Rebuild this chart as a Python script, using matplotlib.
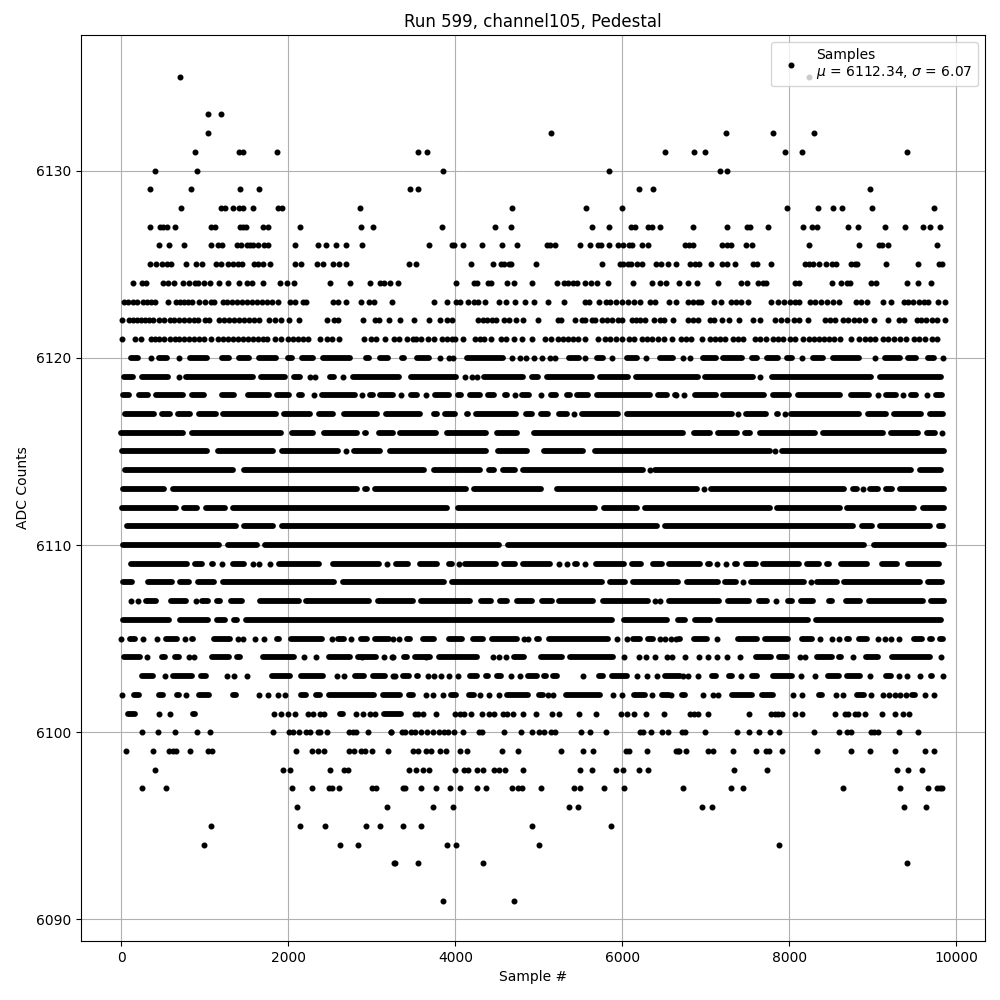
import matplotlib
matplotlib.use("Agg")
import matplotlib.pyplot as plt

# Sample numbers, per ADC level.
# dots_N: isolated samples. spans_N: (first, last) of stretches where dots merge into a solid run.
dots_6135 = [706, 8240]
dots_6133 = [1042, 1198]
dots_6132 = [1042, 5148, 7244, 7808, 8300]
dots_6131 = [886, 1414, 1462, 1870, 3552, 3660, 6516, 6860, 6992, 7952, 8156, 9404]
dots_6130 = [406, 910, 3852, 5844, 7172, 7256]
dots_6129 = [346, 838, 1426, 1654, 3456, 3552, 6204, 6372, 8960]
dots_6128 = [718, 1198, 1246, 1342, 1414, 1462, 1582, 1882, 1930, 2854, 4680, 5568, 6000, 7976, 8348, 8528, 8636, 8984, 9728]
dots_6127 = [346, 462, 502, 550, 646, 1078, 1126, 1422, 1462, 1494, 1694, 1762, 2134, 2866, 3010, 3840, 4476, 4668, 5640, 5844, 6108, 6156, 6312, 6360, 6456, 6848, 7256, 7496, 7528, 7748, 8168, 8276, 8328, 8708, 8828, 9140, 9380, 9596, 9680, 9800]
dots_6126 = [454, 574, 754, 1078, 1162, 1210, 1390, 1430, 1502, 1542, 1582, 1642, 1710, 1762, 2074, 2350, 2446, 2566, 2686, 2878, 3684, 3960, 3984, 4092, 4320, 4560, 4740, 5100, 5132, 5196, 5496, 5616, 5712, 5740, 5844, 5952, 6012, 6084, 6120, 6232, 6312, 6748, 6800, 6848, 7196, 7256, 7304, 7484, 7556, 8240, 8840, 9068, 9104, 9176, 9764]
dots_6125 = [346, 418, 490, 550, 598, 778, 898, 962, 1138, 1198, 1282, 1342, 1402, 1442, 1594, 1642, 1694, 1786, 2074, 2146, 2338, 2410, 2530, 2602, 2686, 3444, 3528, 4188, 4452, 4548, 4584, 4644, 4668, 4968, 5760, 5976, 6012, 6072, 6108, 6180, 6240, 6408, 6468, 6552, 6648, 6808, 6868, 6916, 7064, 7196, 7256, 7348, 7568, 7616, 7784, 8192, 8240, 8288, 8360, 8444, 8516, 8564, 8744, 8792, 8816, 9152, 9536, 9788, 9824]
dots_6124 = [142, 246, 298, 502, 562, 634, 742, 814, 886, 922, 994, 1066, 1174, 1282, 1414, 1510, 1570, 1702, 1906, 1978, 2062, 2494, 2734, 2974, 3094, 3142, 3214, 3312, 4008, 4224, 4260, 4392, 4428, 4620, 4704, 4920, 5220, 5304, 5352, 5412, 5460, 5556, 5628, 5700, 5832, 6132, 6360, 6456, 6528, 6680, 6788, 6896, 7144, 7424, 7496, 7628, 7688, 7724, 8072, 8120, 8516, 8624, 8696, 8732, 8972, 9032, 9404, 9536, 9692]
dots_6123 = [34, 82, 142, 190, 262, 310, 358, 406, 562, 658, 706, 754, 802, 850, 934, 1006, 1078, 1114, 1222, 1270, 1330, 1390, 1450, 1510, 1570, 1630, 1690, 1750, 1810, 1882, 2014, 2074, 2170, 2206, 2530, 2590, 2686, 2866, 2962, 3022, 3238, 3744, 3900, 4008, 4056, 4152, 4224, 4272, 4356, 4524, 4608, 4716, 4836, 4944, 5112, 5304, 5556, 5604, 5724, 5808, 5856, 5928, 6000, 6072, 6144, 6216, 6336, 6396, 6564, 6644, 6788, 6848, 6908, 6944, 7100, 7184, 7304, 7364, 7424, 7508, 7784, 7868, 7940, 8012, 8072, 8120, 8252, 8312, 8384, 8456, 8528, 8600, 8804, 8864, 8924, 9116, 9212, 9368, 9416, 9476, 9548, 9608, 9656, 9776, 9860]
dots_6122 = [10, 94, 142, 190, 238, 286, 334, 382, 454, 514, 586, 634, 694, 754, 814, 874, 922, 1006, 1054, 1174, 1234, 1294, 1354, 1414, 1474, 1534, 1594, 1654, 1774, 1846, 1918, 2002, 2122, 2458, 2542, 2590, 2890, 3034, 3082, 3202, 3342, 3504, 3684, 3816, 3900, 3960, 4272, 4332, 4380, 4440, 4488, 4584, 4644, 4728, 4812, 4992, 5232, 5268, 5436, 5520, 5556, 5640, 5676, 5760, 5820, 5880, 5952, 6000, 6120, 6168, 6216, 6276, 6384, 6456, 6504, 6608, 6788, 6848, 6908, 7052, 7100, 7196, 7280, 7400, 7568, 7652, 7832, 7904, 7976, 8060, 8120, 8228, 8432, 8492, 8552, 8648, 8708, 8780, 8840, 8900, 9008, 9176, 9308, 9368, 9524, 9572, 9632, 9704, 9764, 9860]
dots_6121 = [10, 166, 238, 358, 406, 454, 514, 586, 646, 694, 754, 814, 874, 934, 994, 1078, 1162, 1222, 1282, 1342, 1402, 1462, 1522, 1582, 1642, 1702, 1750, 1846, 1918, 1990, 2050, 2110, 2170, 2230, 2374, 2458, 2518, 2602, 2902, 2986, 3046, 3154, 3262, 3322, 3420, 3492, 3528, 3588, 3672, 3744, 3840, 3900, 3960, 3996, 4092, 4236, 4296, 4344, 4428, 4548, 4608, 4704, 4800, 4920, 5076, 5148, 5232, 5292, 5352, 5412, 5472, 5556, 5712, 5796, 5856, 5928, 6000, 6084, 6144, 6240, 6300, 6360, 6432, 6504, 6596, 6704, 6764, 6824, 6956, 7052, 7112, 7172, 7232, 7328, 7388, 7448, 7592, 7652, 7724, 7808, 7868, 7928, 8012, 8072, 8168, 8240, 8300, 8360, 8420, 8480, 8540, 8612, 8744, 8840, 8900, 8960, 9020, 9116, 9176, 9248, 9320, 9392, 9488, 9548, 9620, 9704, 9764]

dots_6120 = [358, 694, 3816, 3924, 3972, 4680, 4780, 4844, 4944, 5040, 5136, 5196, 5556, 5872, 6280, 6728, 6816, 8156, 9020, 9844]
spans_6120 = [(114, 194), (454, 550), (822, 1022), (1210, 1294), (1414, 1534), (1654, 1850), (1994, 2042), (2162, 2294), (2414, 2734), (2930, 2962), (3102, 3194), (3364, 3380), (3540, 3684), (4140, 4572), (5364, 5484), (5700, 5772), (6060, 6172), (6452, 6612), (6968, 7120), (7208, 7428), (7556, 7616), (7728, 7860), (7968, 8028), (8280, 8400), (8520, 8836), (9140, 9328), (9416, 9516), (9656, 9736)]
dots_6119 = [690, 2254, 2322, 2654, 4116, 4200, 4260, 7648]
spans_6119 = [(34, 142), (242, 554), (774, 1574), (1674, 1962), (2066, 2134), (2494, 2550), (2770, 3324), (3464, 4012), (4340, 4812), (4924, 4992), (5100, 5632), (5736, 6064), (6160, 6900), (6988, 7560), (7788, 8976), (9080, 9816)]
dots_6118 = [2302, 2878, 3352, 3652, 4716, 5024, 6640, 6744, 9056, 9356, 9652]
spans_6118 = [(22, 86), (214, 322), (414, 742), (842, 986), (1202, 1354), (1514, 1766), (1870, 2006), (2122, 2162), (2406, 2802), (2974, 3010), (3094, 3254), (3468, 3544), (3756, 3920), (4032, 4072), (4172, 4292), (4392, 4460), (4596, 4620), (4804, 4884), (5140, 5200), (5332, 5372), (5460, 5588), (5700, 6332), (6432, 6532), (6628, 6648), (6868, 7120), (7208, 7696), (7808, 8000), (8108, 8608), (8744, 8952), (9160, 9276), (9456, 9516), (9756, 9832)]
dots_6117 = [5420, 7388, 7944]
spans_6117 = [(42, 390), (490, 582), (674, 822), (934, 1130), (1222, 1850), (1954, 2262), (2362, 2534), (2662, 3062), (3174, 3572), (3744, 3784), (3872, 4000), (4140, 4152), (4244, 4732), (4844, 4924), (5020, 5104), (5244, 5332), (5516, 5952), (6052, 7308), (7476, 7720), (7848, 7860), (8016, 8840), (8936, 9160), (9248, 9576), (9680, 9840)]
dots_6116 = [9832]
spans_6116 = [(0, 734), (842, 1910), (2038, 2294), (2430, 2822), (2918, 2934), (3082, 3252), (3340, 3772), (3900, 4372), (4500, 4740), (4944, 6728), (6864, 7048), (7148, 7368), (7464, 7528), (7652, 8312), (8408, 9120), (9212, 9536), (9644, 9748)]
dots_6115 = [2690, 7824]
spans_6115 = [(10, 1022), (1162, 1822), (1930, 2590), (2782, 3102), (3222, 4372), (4512, 4864), (5060, 5532), (5676, 7768), (7908, 9848)]
dots_6114 = [6332]
spans_6114 = [(42, 1334), (1474, 3620), (3740, 4292), (4404, 4464), (4572, 4712), (4812, 6244), (6392, 9460), (9560, 9816)]
dots_6113 = [6976, 8880]
spans_6113 = [(22, 510), (614, 2822), (2922, 2942), (3042, 4132), (4224, 5020), (5212, 6896), (7060, 8656), (8768, 8808), (8968, 9056), (9152, 9224), (9320, 9848)]
spans_6112 = [(10, 654), (750, 910), (1010, 1238), (1342, 3904), (4032, 5672), (5784, 6172), (6272, 7768), (7856, 8608), (8696, 9488), (9600, 9848)]
spans_6111 = [(62, 1370), (1470, 1814), (1930, 6412), (6512, 8760), (8868, 8988), (9080, 9688), (9792, 9840)]
spans_6110 = [(22, 1174), (1274, 1622), (1722, 4524), (4632, 8896), (9008, 9848)]
dots_6109 = [1210, 1574, 1654, 1786, 3178, 4044, 5236, 5340, 5548, 7136, 7240]
spans_6109 = [(114, 782), (886, 962), (1082, 1102), (1342, 1474), (1890, 2362), (2530, 3082), (3292, 3432), (3580, 3784), (3920, 3964), (4112, 4492), (4584, 4720), (4812, 5132), (5432, 5452), (5684, 6020), (6112, 6220), (6364, 6472), (6564, 6928), (7020, 7048), (7348, 7376), (7484, 7600), (7688, 8116), (8208, 8356), (8448, 8476), (8624, 8928), (9104, 9288), (9416, 9792)]
dots_6108 = [7448, 8260]
spans_6108 = [(22, 122), (314, 602), (706, 814), (914, 1110), (1222, 2542), (2650, 3860), (3960, 5752), (5852, 6032), (6124, 6668), (6780, 7140), (7232, 7360), (7544, 8180), (8328, 8568), (8660, 9568), (9656, 9828)]
dots_6107 = [110, 202, 890, 6388, 6456, 7836]
spans_6107 = [(294, 410), (598, 770), (970, 1034), (1142, 1182), (1310, 1442), (1662, 2122), (2214, 2962), (3070, 3492), (3592, 4180), (4312, 4432), (4540, 4620), (4740, 4924), (5040, 5152), (5244, 5652), (5764, 6312), (6556, 7160), (7260, 7520), (7640, 7728), (7988, 8028), (8144, 8288), (8480, 8508), (8684, 8848), (8948, 9600), (9696, 9848)]
spans_6106 = [(22, 566), (706, 1042), (1142, 1246), (1354, 1390), (1494, 5872), (6020, 6532), (6672, 6756), (6872, 7048), (7148, 8220), (8324, 9816)]
dots_6105 = [2, 262, 422, 766, 1402, 1454, 1606, 1714, 2518, 2750, 3252, 3324, 4824, 4872, 5940, 6052, 6452, 6512, 6588, 6644, 7136, 8372, 8516, 8600, 9056, 9140, 9220, 9308]
spans_6105 = [(102, 162), (530, 662), (842, 862), (1114, 1302), (1862, 1886), (2030, 2402), (2594, 2662), (2866, 2942), (3034, 3200), (3424, 3460), (3612, 3744), (3928, 4084), (4216, 4332), (4444, 4740), (4980, 5004), (5124, 5832), (6132, 6212), (6312, 6372), (6676, 6688), (6856, 7008), (7388, 7608), (7708, 7988), (8148, 8268), (8688, 8712), (8840, 8928), (9488, 9588), (9680, 9708), (9808, 9836)]
dots_6104 = [310, 806, 870, 2182, 2326, 2878, 3150, 3254, 3244, 3652, 4452, 4520, 4612, 6024, 6204, 6280, 6392, 6532, 6600, 6752, 6920, 7028, 7128, 7248, 7412, 8128, 8188, 8760, 9812]
spans_6104 = [(34, 222), (490, 522), (646, 686), (1086, 1294), (1390, 1422), (1702, 2070), (2482, 2734), (2830, 3054), (3384, 3424), (3512, 3700), (3800, 4260), (4704, 4824), (5028, 5272), (5372, 5884), (7600, 7780), (7880, 7976), (8336, 8508), (8600, 8616), (8912, 9060), (9232, 9688)]
dots_6103 = [518, 1270, 1354, 1510, 2578, 2662, 3274, 3252, 3672, 3748, 3828, 3924, 4032, 4668, 4776, 5532, 6172, 6300, 6420, 6728, 6788, 6908, 7424, 8144, 8312, 8960, 9308, 9408, 9560, 9836]
spans_6103 = [(250, 382), (614, 842), (950, 1010), (1810, 2022), (2146, 2414), (2794, 2910), (3010, 3162), (3372, 3444), (3540, 3552), (4176, 4260), (4372, 4392), (4500, 4552), (4872, 4972), (5060, 5080), (5172, 5220), (5724, 5764), (5876, 6060), (6516, 6692), (7072, 7116), (7280, 7308), (7556, 7608), (7804, 8028), (8468, 8592), (8696, 8848), (9152, 9216), (9692, 9708)]
dots_6102 = [10, 778, 1654, 1762, 1874, 1966, 3644, 3732, 3852, 4296, 4404, 4520, 5112, 5172, 5892, 6000, 6360, 6580, 6968, 7088, 7140, 8048, 8152, 8560, 8648, 8972, 9116, 9192, 9268, 9328, 9396, 9624, 9728]
spans_6102 = [(150, 210), (454, 494), (670, 694), (934, 1046), (1342, 1370), (2146, 2214), (2326, 2374), (2482, 3022), (3130, 3340), (3444, 3492), (3952, 4012), (4164, 4220), (4620, 4876), (5000, 5044), (5324, 5732), (6136, 6276), (6472, 6564), (6716, 6756), (7312, 7548), (7668, 7808), (8360, 8388), (8816, 8896), (9472, 9508)]
dots_6101 = [454, 586, 1834, 1910, 1990, 2074, 2230, 2290, 2374, 2422, 2810, 2890, 2982, 3042, 3512, 3552, 3612, 3768, 3992, 4052, 4100, 4188, 4320, 4404, 4464, 4572, 4620, 4692, 4808, 4968, 5160, 5244, 5484, 5688, 5988, 6052, 6144, 6288, 6504, 6808, 6856, 6904, 7028, 7520, 7776, 7828, 7868, 7912, 8072, 8156, 8552, 8668, 8708, 8788, 8828, 8900, 9104, 9260, 9356, 9428]
spans_6101 = [(78, 166), (854, 882), (2614, 2654), (3150, 3344)]
dots_6100 = [246, 442, 646, 910, 1066, 1822, 2002, 2050, 2122, 2206, 2254, 2350, 2374, 2466, 2722, 2770, 2814, 2950, 3234, 3232, 3360, 3396, 3468, 3516, 3588, 3660, 3732, 3804, 3864, 3912, 3984, 4092, 4280, 4320, 4584, 4788, 4920, 5004, 5064, 5148, 5196, 5508, 5616, 5808, 6216, 6252, 6348, 6480, 6552, 6716, 6756, 6992, 7376, 7520, 7640, 7772, 7880, 8300, 8600, 8696, 8744, 8972, 9008, 9056, 9308, 9536]
dots_6099 = [58, 382, 574, 614, 658, 826, 1042, 1082, 2086, 2278, 2350, 2422, 2722, 2782, 2866, 2914, 2998, 3190, 3492, 3552, 3648, 3708, 3816, 3888, 4056, 4140, 4560, 4752, 5268, 5532, 5652, 6048, 6084, 6300, 6648, 6672, 6680, 6768, 7028, 7088, 7328, 7604, 7724, 7760, 7916, 8336, 8744, 8960, 9260, 9620, 9728]
dots_6098 = [406, 1942, 2014, 2494, 2662, 2710, 3444, 3528, 3612, 3684, 3996, 4104, 4152, 4260, 4332, 4464, 4524, 4596, 4812, 5496, 5640, 5928, 6012, 6204, 6312, 7340, 7736, 9284, 9416, 9584]
dots_6097 = [250, 538, 2038, 2278, 2482, 2518, 2602, 2998, 3046, 3372, 3396, 3588, 3768, 3936, 4056, 4260, 4368, 4680, 4752, 4800, 5028, 5424, 5496, 5784, 6024, 6728, 7304, 7448, 8648, 9320, 9656, 9768, 9800, 9828]
dots_6096 = [2098, 3178, 3732, 3972, 5364, 5472, 6956, 7076, 9368, 9632]
dots_6095 = [1078, 2134, 2434, 2926, 3094, 3372, 3588, 4920, 5868]
dots_6094 = [994, 2614, 2830, 3900, 4008, 5004, 7880]
dots_6093 = [3262, 3278, 3552, 4332, 9404]
dots_6091 = [3852, 4704]

mu = 6112.34
sigma = 6.07

levels = [6135, 6133, 6132, 6131, 6130, 6129, 6128, 6127, 6126, 6125, 6124, 6123, 6122, 6121,
          6120, 6119, 6118, 6117, 6116, 6115, 6114, 6113, 6109, 6108, 6107, 6105, 6104, 6103,
          6102, 6101, 6100, 6099, 6098, 6097, 6096, 6095, 6094, 6093, 6091]

dot_x, dot_y = [], []
for lv in levels:
    vals = globals()[f"dots_{lv}"]
    dot_x += vals
    dot_y += [lv] * len(vals)

span_levels = [6120, 6119, 6118, 6117, 6116, 6115, 6114, 6113, 6112, 6111, 6110, 6109, 6108,
               6107, 6106, 6105, 6104, 6103, 6102, 6101]
span_y, span_a, span_b = [], [], []
for lv in span_levels:
    for a, b in globals()[f"spans_{lv}"]:
        span_y.append(lv)
        span_a.append(a)
        span_b.append(b)

fig, ax = plt.subplots(figsize=(10, 10), dpi=100)
ax.grid(True)
ax.hlines(span_y, span_a, span_b, colors="k", linewidth=4.2, capstyle="round", zorder=2)
ax.plot(dot_x, dot_y, "k.", ms=6.6, label=f"Samples\n$\\mu$ = {mu:.2f}, $\\sigma$ = {sigma:.2f}", zorder=2)
ax.set_xlim(-483, 10343)
ax.set_ylim(6088.85, 6137.24)
ax.set_xlabel("Sample #")
ax.set_ylabel("ADC Counts")
ax.set_title("Run 599, channel105, Pedestal")
ax.legend(loc="upper right")
fig.subplots_adjust(left=0.081, right=0.985, top=0.965, bottom=0.059)
fig.savefig("out.png", dpi=100)
